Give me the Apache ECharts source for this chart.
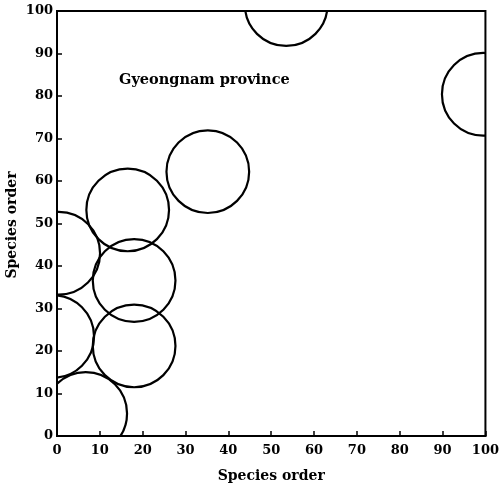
<!DOCTYPE html>
<html>
<head>
<meta charset="utf-8">
<script src="https://cdn.jsdelivr.net/npm/echarts@6/dist/echarts.min.js"></script>
<style>
  html, body { margin: 0; padding: 0; background: #fff; }
  #chart { width: 502px; height: 489px; }
</style>
</head>
<body>
<div id="chart"></div>
<script>
// Species clusters in species-order space (x order, y order)
const speciesX = [6.7, -1, 0.4, 18, 18, 16.5, 35.2, 53.5, 99.5];
const speciesY = [5.3, 23.4, 43, 21.2, 36.6, 53.2, 62.2, 101.5, 80.4];
const tickValues = [0, 10, 20, 30, 40, 50, 60, 70, 80, 90, 100];
const regionLabel = 'Gyeongnam province';
const axisTitle = 'Species order';

// circle radius, in x-axis units
const CIRCLE_RADIUS = 9.65;
const FONT = '"DejaVu Serif", "Liberation Serif", serif';
const points = speciesX.map((x, i) => [x, speciesY[i]]);

const axisCommon = {
  type: 'value',
  min: 0,
  max: 100,
  interval: 10,
  splitLine: { show: false },
  axisLine: { show: true, lineStyle: { color: '#000', width: 2 } },
  axisTick: { show: true, inside: true, length: 5, lineStyle: { color: '#000', width: 1.5 } },
  axisLabel: {
    color: '#000', fontFamily: FONT, fontWeight: 'bold', fontSize: 13,
    formatter: v => tickValues.includes(v) ? String(v) : ''
  }
};

const chart = echarts.init(document.getElementById('chart'), null, { renderer: 'canvas' });
chart.setOption({
  animation: false,
  backgroundColor: '#fff',
  grid: {
    left: 57, right: 14, top: 11, bottom: 53,
    show: true, borderColor: '#000', borderWidth: 2, backgroundColor: 'transparent'
  },
  xAxis: Object.assign({}, axisCommon, {
    axisLabel: Object.assign({}, axisCommon.axisLabel, { margin: 8 }),
    name: axisTitle,
    nameLocation: 'middle',
    nameGap: 33,
    nameTextStyle: { color: '#000', fontFamily: FONT, fontWeight: 'bold', fontSize: 14 }
  }),
  yAxis: Object.assign({}, axisCommon, {
    axisLabel: Object.assign({}, axisCommon.axisLabel, { margin: 4 })
  }),
  graphic: [
    {
      type: 'text',
      left: 119, top: 73,
      style: { text: regionLabel, fill: '#000', font: 'bold 14.5px ' + FONT }
    },
    {
      type: 'text',
      x: 12, y: 225,
      rotation: Math.PI / 2,
      style: {
        text: axisTitle, fill: '#000', font: 'bold 14px ' + FONT,
        align: 'center', verticalAlign: 'middle'
      }
    }
  ],
  series: [{
    type: 'custom',
    coordinateSystem: 'cartesian2d',
    clip: true,
    data: points,
    encode: { x: 0, y: 1 },
    renderItem: function (params, api) {
      const c = api.coord([api.value(0), api.value(1)]);
      const r = api.size([CIRCLE_RADIUS, 0])[0];
      return {
        type: 'circle',
        shape: { cx: c[0], cy: c[1], r: r },
        style: { fill: 'none', stroke: '#000', lineWidth: 2.2 }
      };
    }
  }]
});
</script>
</body>
</html>
